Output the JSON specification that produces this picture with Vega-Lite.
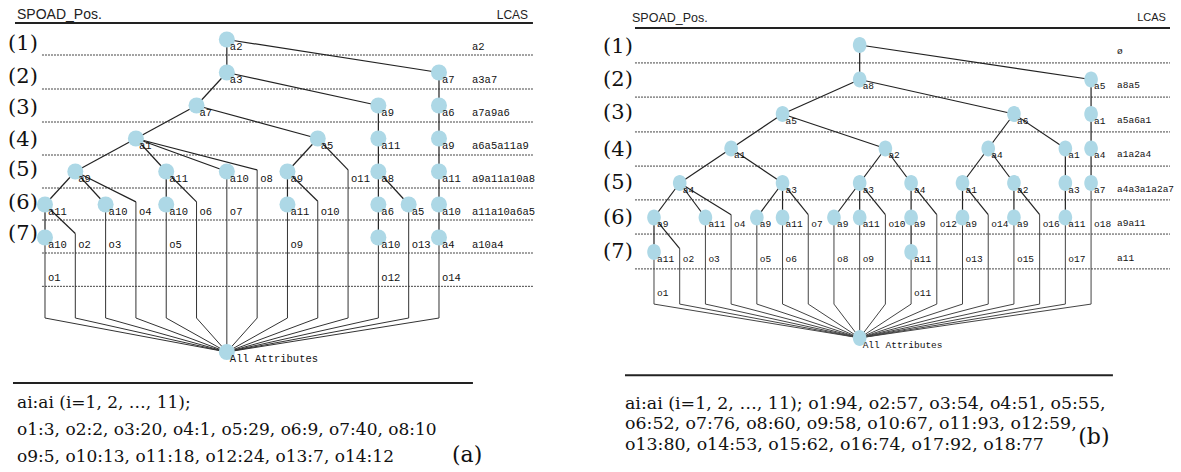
{
  "$schema": "https://vega.github.io/schema/vega-lite/v6.json",
  "background": "white",
  "padding": 0,
  "bounds": "flush",
  "spacing": 55,
  "config": {"view": {"stroke": null}},
  "datasets": {
    "nodesA": [
      {"s": 7, "L": 1, "t": "a2"},
      {"s": 7, "L": 2, "t": "a3"}, {"s": 14, "L": 2, "t": "a7"},
      {"s": 6, "L": 3, "t": "a7"}, {"s": 12, "L": 3, "t": "a9"}, {"s": 14, "L": 3, "t": "a6"},
      {"s": 4, "L": 4, "t": "a1"}, {"s": 10, "L": 4, "t": "a5"}, {"s": 12, "L": 4, "t": "a11"}, {"s": 14, "L": 4, "t": "a9"},
      {"s": 2, "L": 5, "t": "a9"}, {"s": 5, "L": 5, "t": "a11"}, {"s": 7, "L": 5, "t": "a10"}, {"s": 9, "L": 5, "t": "a9"}, {"s": 12, "L": 5, "t": "a8"}, {"s": 14, "L": 5, "t": "a11"},
      {"s": 1, "L": 6, "t": "a11"}, {"s": 3, "L": 6, "t": "a10"}, {"s": 5, "L": 6, "t": "a10"}, {"s": 9, "L": 6, "t": "a11"}, {"s": 12, "L": 6, "t": "a6"}, {"s": 13, "L": 6, "t": "a5"}, {"s": 14, "L": 6, "t": "a10"},
      {"s": 1, "L": 7, "t": "a10"}, {"s": 12, "L": 7, "t": "a10"}, {"s": 14, "L": 7, "t": "a4"},
      {"s": 7, "L": 10.47, "t": "All Attributes"}
    ],
    "edgesA": [
      {"s": 7, "L": 1, "s2": 7, "L2": 2}, {"s": 7, "L": 1, "s2": 14, "L2": 2},
      {"s": 7, "L": 2, "s2": 6, "L2": 3}, {"s": 7, "L": 2, "s2": 12, "L2": 3}, {"s": 14, "L": 2, "s2": 14, "L2": 3},
      {"s": 6, "L": 3, "s2": 4, "L2": 4}, {"s": 6, "L": 3, "s2": 10, "L2": 4}, {"s": 12, "L": 3, "s2": 12, "L2": 4}, {"s": 14, "L": 3, "s2": 14, "L2": 4},
      {"s": 4, "L": 4, "s2": 2, "L2": 5}, {"s": 4, "L": 4, "s2": 5, "L2": 5}, {"s": 4, "L": 4, "s2": 7, "L2": 5}, {"s": 4, "L": 4, "s2": 8, "L2": 4.95},
      {"s": 10, "L": 4, "s2": 9, "L2": 5}, {"s": 10, "L": 4, "s2": 11, "L2": 4.95}, {"s": 12, "L": 4, "s2": 12, "L2": 5}, {"s": 14, "L": 4, "s2": 14, "L2": 5},
      {"s": 2, "L": 5, "s2": 1, "L2": 6}, {"s": 2, "L": 5, "s2": 3, "L2": 6}, {"s": 2, "L": 5, "s2": 4, "L2": 5.92},
      {"s": 5, "L": 5, "s2": 5, "L2": 6}, {"s": 5, "L": 5, "s2": 6, "L2": 5.92},
      {"s": 9, "L": 5, "s2": 9, "L2": 6}, {"s": 9, "L": 5, "s2": 10, "L2": 5.9},
      {"s": 12, "L": 5, "s2": 12, "L2": 6}, {"s": 12, "L": 5, "s2": 13, "L2": 6}, {"s": 14, "L": 5, "s2": 14, "L2": 6},
      {"s": 1, "L": 6, "s2": 1, "L2": 7}, {"s": 1, "L": 6, "s2": 2, "L2": 6.88},
      {"s": 12, "L": 6, "s2": 12, "L2": 7}, {"s": 14, "L": 6, "s2": 14, "L2": 7}
    ],
    "leavesA": [
      {"s": 1, "top": 7, "bend": 9.44, "rs": 7, "rL": 10.47, "t": "o1", "tL": 8},
      {"s": 2, "top": 6.88, "bend": 9.44, "rs": 7, "rL": 10.47, "t": "o2", "tL": 7},
      {"s": 3, "top": 6, "bend": 9.44, "rs": 7, "rL": 10.47, "t": "o3", "tL": 7},
      {"s": 4, "top": 5.92, "bend": 9.44, "rs": 7, "rL": 10.47, "t": "o4", "tL": 6},
      {"s": 5, "top": 6, "bend": 9.44, "rs": 7, "rL": 10.47, "t": "o5", "tL": 7},
      {"s": 6, "top": 5.92, "bend": 9.44, "rs": 7, "rL": 10.47, "t": "o6", "tL": 6},
      {"s": 7, "top": 5, "bend": 9.44, "rs": 7, "rL": 10.47, "t": "o7", "tL": 6},
      {"s": 8, "top": 4.95, "bend": 9.44, "rs": 7, "rL": 10.47, "t": "o8", "tL": 5},
      {"s": 9, "top": 6, "bend": 9.44, "rs": 7, "rL": 10.47, "t": "o9", "tL": 7},
      {"s": 10, "top": 5.9, "bend": 9.44, "rs": 7, "rL": 10.47, "t": "o10", "tL": 6},
      {"s": 11, "top": 4.95, "bend": 9.44, "rs": 7, "rL": 10.47, "t": "o11", "tL": 5},
      {"s": 12, "top": 7, "bend": 9.44, "rs": 7, "rL": 10.47, "t": "o12", "tL": 8},
      {"s": 13, "top": 6, "bend": 9.44, "rs": 7, "rL": 10.47, "t": "o13", "tL": 7},
      {"s": 14, "top": 7, "bend": 9.44, "rs": 7, "rL": 10.47, "t": "o14", "tL": 8}
    ],
    "dashA": [
      {"L": 1.47, "s": 0.9, "s2": 17.1}, {"L": 2.5, "s": 0.9, "s2": 17.1}, {"L": 3.5, "s": 0.9, "s2": 17.1}, {"L": 4.5, "s": 0.9, "s2": 17.1},
      {"L": 5.5, "s": 0.9, "s2": 17.1}, {"L": 6.47, "s": 0.9, "s2": 17.1}, {"L": 7.47, "s": 0.9, "s2": 17.1}, {"L": 8.48, "s": 0.9, "s2": 17.1}
    ],
    "solidA": [
      {"L": 0.5, "s": 0.01, "s2": 17.1},
      {"L": 11.41, "s": -0.056, "s2": 15.12}
    ],
    "rowsA": [
      {"s": 0.274, "L": 1.14, "t": "(1)"}, {"s": 0.274, "L": 2.14, "t": "(2)"}, {"s": 0.274, "L": 3.08, "t": "(3)"},
      {"s": 0.274, "L": 4.05, "t": "(4)"}, {"s": 0.274, "L": 4.95, "t": "(5)"}, {"s": 0.274, "L": 5.95, "t": "(6)"}, {"s": 0.274, "L": 6.89, "t": "(7)"}
    ],
    "lcasA": [
      {"s": 15.09, "L": 1, "t": "a2"}, {"s": 15.09, "L": 2, "t": "a3a7"}, {"s": 15.09, "L": 3, "t": "a7a9a6"},
      {"s": 15.09, "L": 4, "t": "a6a5a11a9"}, {"s": 15.09, "L": 5, "t": "a9a11a10a8"}, {"s": 15.09, "L": 6, "t": "a11a10a6a5"}, {"s": 15.09, "L": 7, "t": "a10a4"}
    ],
    "bottomA": [
      {"s": 0.076, "L": 12.02, "t": "ai:ai (i=1, 2, …, 11);"},
      {"s": 0.076, "L": 12.84, "t": "o1:3, o2:2, o3:20, o4:1, o5:29, o6:9, o7:40, o8:10"},
      {"s": 0.076, "L": 13.66, "t": "o9:5, o10:13, o11:18, o12:24, o13:7, o14:12"}
    ],
    "nodesB": [
      {"s": 9, "L": 1, "t": ""},
      {"s": 9, "L": 2, "t": "a8"}, {"s": 18, "L": 2, "t": "a5"},
      {"s": 6, "L": 3, "t": "a5"}, {"s": 15, "L": 3, "t": "a6"}, {"s": 18, "L": 3, "t": "a1"},
      {"s": 4, "L": 4, "t": "a1"}, {"s": 10, "L": 4, "t": "a2"}, {"s": 14, "L": 4, "t": "a4"}, {"s": 17, "L": 4, "t": "a1"}, {"s": 18, "L": 4, "t": "a4"},
      {"s": 2, "L": 5, "t": "a4"}, {"s": 6, "L": 5, "t": "a3"}, {"s": 9, "L": 5, "t": "a3"}, {"s": 11, "L": 5, "t": "a4"}, {"s": 13, "L": 5, "t": "a1"}, {"s": 15, "L": 5, "t": "a2"}, {"s": 17, "L": 5, "t": "a3"}, {"s": 18, "L": 5, "t": "a7"},
      {"s": 1, "L": 6, "t": "a9"}, {"s": 3, "L": 6, "t": "a11"}, {"s": 5, "L": 6, "t": "a9"}, {"s": 6, "L": 6, "t": "a11"}, {"s": 8, "L": 6, "t": "a9"}, {"s": 9, "L": 6, "t": "a11"}, {"s": 11, "L": 6, "t": "a9"}, {"s": 13, "L": 6, "t": "a9"}, {"s": 15, "L": 6, "t": "a9"}, {"s": 17, "L": 6, "t": "a11"},
      {"s": 1, "L": 7, "t": "a11"}, {"s": 11, "L": 7, "t": "a11"},
      {"s": 9, "L": 9.49, "t": "All Attributes"}
    ],
    "edgesB": [
      {"s": 9, "L": 1, "s2": 9, "L2": 2}, {"s": 9, "L": 1, "s2": 18, "L2": 2},
      {"s": 9, "L": 2, "s2": 6, "L2": 3}, {"s": 9, "L": 2, "s2": 15, "L2": 3}, {"s": 18, "L": 2, "s2": 18, "L2": 3},
      {"s": 6, "L": 3, "s2": 4, "L2": 4}, {"s": 6, "L": 3, "s2": 10, "L2": 4}, {"s": 15, "L": 3, "s2": 14, "L2": 4}, {"s": 15, "L": 3, "s2": 17, "L2": 4}, {"s": 18, "L": 3, "s2": 18, "L2": 4},
      {"s": 4, "L": 4, "s2": 2, "L2": 5}, {"s": 4, "L": 4, "s2": 6, "L2": 5}, {"s": 10, "L": 4, "s2": 9, "L2": 5}, {"s": 10, "L": 4, "s2": 11, "L2": 5},
      {"s": 14, "L": 4, "s2": 13, "L2": 5}, {"s": 14, "L": 4, "s2": 15, "L2": 5}, {"s": 17, "L": 4, "s2": 17, "L2": 5}, {"s": 18, "L": 4, "s2": 18, "L2": 5},
      {"s": 2, "L": 5, "s2": 1, "L2": 6}, {"s": 2, "L": 5, "s2": 3, "L2": 6}, {"s": 2, "L": 5, "s2": 4, "L2": 5.92},
      {"s": 6, "L": 5, "s2": 5, "L2": 6}, {"s": 6, "L": 5, "s2": 6, "L2": 6}, {"s": 6, "L": 5, "s2": 7, "L2": 5.92},
      {"s": 9, "L": 5, "s2": 8, "L2": 6}, {"s": 9, "L": 5, "s2": 9, "L2": 6}, {"s": 9, "L": 5, "s2": 10, "L2": 5.92},
      {"s": 11, "L": 5, "s2": 11, "L2": 6}, {"s": 11, "L": 5, "s2": 12, "L2": 5.92},
      {"s": 13, "L": 5, "s2": 13, "L2": 6}, {"s": 13, "L": 5, "s2": 14, "L2": 5.92},
      {"s": 15, "L": 5, "s2": 15, "L2": 6}, {"s": 15, "L": 5, "s2": 16, "L2": 5.92},
      {"s": 17, "L": 5, "s2": 17, "L2": 6},
      {"s": 1, "L": 6, "s2": 1, "L2": 7}, {"s": 1, "L": 6, "s2": 2, "L2": 6.9}, {"s": 11, "L": 6, "s2": 11, "L2": 7}
    ],
    "leavesB": [
      {"s": 1, "top": 7, "bend": 8.51, "rs": 9, "rL": 9.49, "t": "o1", "tL": 8},
      {"s": 2, "top": 6.9, "bend": 8.51, "rs": 9, "rL": 9.49, "t": "o2", "tL": 7},
      {"s": 3, "top": 6, "bend": 8.51, "rs": 9, "rL": 9.49, "t": "o3", "tL": 7},
      {"s": 4, "top": 5.92, "bend": 8.51, "rs": 9, "rL": 9.49, "t": "o4", "tL": 6},
      {"s": 5, "top": 6, "bend": 8.51, "rs": 9, "rL": 9.49, "t": "o5", "tL": 7},
      {"s": 6, "top": 6, "bend": 8.51, "rs": 9, "rL": 9.49, "t": "o6", "tL": 7},
      {"s": 7, "top": 5.92, "bend": 8.51, "rs": 9, "rL": 9.49, "t": "o7", "tL": 6},
      {"s": 8, "top": 6, "bend": 8.51, "rs": 9, "rL": 9.49, "t": "o8", "tL": 7},
      {"s": 9, "top": 6, "bend": 8.51, "rs": 9, "rL": 9.49, "t": "o9", "tL": 7},
      {"s": 10, "top": 5.92, "bend": 8.51, "rs": 9, "rL": 9.49, "t": "o10", "tL": 6},
      {"s": 11, "top": 7, "bend": 8.51, "rs": 9, "rL": 9.49, "t": "o11", "tL": 8},
      {"s": 12, "top": 5.92, "bend": 8.51, "rs": 9, "rL": 9.49, "t": "o12", "tL": 6},
      {"s": 13, "top": 6, "bend": 8.51, "rs": 9, "rL": 9.49, "t": "o13", "tL": 7},
      {"s": 14, "top": 5.92, "bend": 8.51, "rs": 9, "rL": 9.49, "t": "o14", "tL": 6},
      {"s": 15, "top": 6, "bend": 8.51, "rs": 9, "rL": 9.49, "t": "o15", "tL": 7},
      {"s": 16, "top": 5.92, "bend": 8.51, "rs": 9, "rL": 9.49, "t": "o16", "tL": 6},
      {"s": 17, "top": 6, "bend": 8.51, "rs": 9, "rL": 9.49, "t": "o17", "tL": 7},
      {"s": 18, "top": 5, "bend": 8.51, "rs": 9, "rL": 9.49, "t": "o18", "tL": 6}
    ],
    "dashB": [
      {"L": 1.52, "s": 0.261, "s2": 21.07}, {"L": 2.51, "s": 0.261, "s2": 21.07}, {"L": 3.52, "s": 0.261, "s2": 21.07}, {"L": 4.51, "s": 0.261, "s2": 21.07},
      {"L": 5.49, "s": 0.261, "s2": 21.07}, {"L": 6.48, "s": 0.261, "s2": 21.07}, {"L": 7.49, "s": 0.261, "s2": 21.07}
    ],
    "solidB": [
      {"L": 0.507, "s": 0.261, "s2": 21.07},
      {"L": 10.57, "s": -0.128, "s2": 18.85}
    ],
    "rowsB": [
      {"s": -0.4, "L": 1.06, "t": "(1)"}, {"s": -0.4, "L": 2.01, "t": "(2)"}, {"s": -0.4, "L": 2.97, "t": "(3)"},
      {"s": -0.4, "L": 4.04, "t": "(4)"}, {"s": -0.4, "L": 5.0, "t": "(5)"}, {"s": -0.4, "L": 6.01, "t": "(6)"}, {"s": -0.4, "L": 7.0, "t": "(7)"}
    ],
    "lcasB": [
      {"s": 19.01, "L": 1, "t": "ø"}, {"s": 19.01, "L": 2, "t": "a8a5"}, {"s": 19.01, "L": 3, "t": "a5a6a1"},
      {"s": 19.01, "L": 4, "t": "a1a2a4"}, {"s": 19.01, "L": 5, "t": "a4a3a1a2a7"}, {"s": 19.01, "L": 6, "t": "a9a11"}, {"s": 19.01, "L": 7, "t": "a11"}
    ],
    "bottomB": [
      {"s": -0.128, "L": 11.4, "t": "ai:ai (i=1, 2, …, 11); o1:94, o2:57, o3:54, o4:51, o5:55,"},
      {"s": -0.128, "L": 12.0, "t": "o6:52, o7:76, o8:60, o9:58, o10:67, o11:93, o12:59,"},
      {"s": -0.128, "L": 12.6, "t": "o13:80, o14:53, o15:62, o16:74, o17:92, o18:77"}
    ]
  },
  "hconcat": [
    {
      "width": 545,
      "height": 472,
      "encoding": {
        "x": {"field": "s", "type": "quantitative", "scale": {"domain": [-0.4848, 17.498], "nice": false, "zero": false}, "axis": null},
        "y": {"field": "L", "type": "quantitative", "scale": {"domain": [-0.197, 14.106], "nice": false, "zero": false, "reverse": true}, "axis": null}
      },
      "layer": [
        {"data": {"name": "dashA"}, "mark": {"type": "rule", "strokeDash": [2, 1], "color": "#444", "strokeWidth": 1},
         "encoding": {"x2": {"field": "s2"}}},
        {"data": {"name": "solidA"}, "mark": {"type": "rule", "color": "#222", "strokeWidth": 2},
         "encoding": {"x2": {"field": "s2"}}},
        {"data": {"name": "edgesA"}, "mark": {"type": "rule", "color": "#222", "strokeWidth": 1.2},
         "encoding": {"x2": {"field": "s2"}, "y2": {"field": "L2"}}},
        {"data": {"name": "leavesA"}, "mark": {"type": "rule", "color": "#333", "strokeWidth": 1},
         "encoding": {"y": {"field": "top", "type": "quantitative"}, "y2": {"field": "bend"}}},
        {"data": {"name": "leavesA"}, "mark": {"type": "rule", "color": "#333", "strokeWidth": 1},
         "encoding": {"y": {"field": "bend", "type": "quantitative"}, "x2": {"field": "rs"}, "y2": {"field": "rL"}}},
        {"data": {"name": "nodesA"}, "mark": {"type": "point", "shape": "circle", "filled": true, "size": 256, "color": "#add8e6", "opacity": 1}},
        {"data": {"name": "nodesA"}, "mark": {"type": "text", "align": "left", "baseline": "middle", "dx": 3, "dy": 7, "font": "Liberation Mono", "fontSize": 10.5, "color": "#111"},
         "encoding": {"text": {"field": "t"}}},
        {"data": {"name": "leavesA"}, "mark": {"type": "text", "align": "left", "baseline": "middle", "dx": 3, "dy": 7, "font": "Liberation Mono", "fontSize": 10.5, "color": "#111"},
         "encoding": {"y": {"field": "tL", "type": "quantitative"}, "text": {"field": "t"}}},
        {"data": {"name": "lcasA"}, "mark": {"type": "text", "align": "left", "baseline": "middle", "dy": 7, "font": "Liberation Mono", "fontSize": 10.5, "color": "#111"},
         "encoding": {"text": {"field": "t"}}},
        {"data": {"name": "rowsA"}, "mark": {"type": "text", "align": "center", "baseline": "middle", "font": "DejaVu Serif", "fontSize": 21, "color": "#111"},
         "encoding": {"text": {"field": "t"}}},
        {"data": {"values": [{"s": 0.076, "L": 0.258, "t": "SPOAD_Pos."}]}, "mark": {"type": "text", "align": "left", "baseline": "middle", "font": "Liberation Sans", "fontSize": 14, "color": "#222"},
         "encoding": {"text": {"field": "t"}}},
        {"data": {"values": [{"s": 16.94, "L": 0.258, "t": "LCAS"}]}, "mark": {"type": "text", "align": "right", "baseline": "middle", "font": "Liberation Sans", "fontSize": 12, "color": "#222"},
         "encoding": {"text": {"field": "t"}}},
        {"data": {"name": "bottomA"}, "mark": {"type": "text", "align": "left", "baseline": "middle", "font": "DejaVu Serif", "fontSize": 17, "color": "#111"},
         "encoding": {"text": {"field": "t"}}},
        {"data": {"values": [{"s": 14.93, "L": 13.6, "t": "(a)"}]}, "mark": {"type": "text", "align": "center", "baseline": "middle", "font": "DejaVu Serif", "fontSize": 22, "color": "#111"},
         "encoding": {"text": {"field": "t"}}}
      ]
    },
    {
      "width": 581,
      "height": 472,
      "encoding": {
        "x": {"field": "s", "type": "quantitative", "scale": {"domain": [-1.1, 21.498], "nice": false, "zero": false}, "axis": null},
        "y": {"field": "L", "type": "quantitative", "scale": {"domain": [-0.304, 13.377], "nice": false, "zero": false, "reverse": true}, "axis": null}
      },
      "layer": [
        {"data": {"name": "dashB"}, "mark": {"type": "rule", "strokeDash": [2, 1], "color": "#444", "strokeWidth": 1},
         "encoding": {"x2": {"field": "s2"}}},
        {"data": {"name": "solidB"}, "mark": {"type": "rule", "color": "#222", "strokeWidth": 2},
         "encoding": {"x2": {"field": "s2"}}},
        {"data": {"name": "edgesB"}, "mark": {"type": "rule", "color": "#222", "strokeWidth": 1.2},
         "encoding": {"x2": {"field": "s2"}, "y2": {"field": "L2"}}},
        {"data": {"name": "leavesB"}, "mark": {"type": "rule", "color": "#444", "strokeWidth": 1},
         "encoding": {"y": {"field": "top", "type": "quantitative"}, "y2": {"field": "bend"}}},
        {"data": {"name": "leavesB"}, "mark": {"type": "rule", "color": "#444", "strokeWidth": 1},
         "encoding": {"y": {"field": "bend", "type": "quantitative"}, "x2": {"field": "rs"}, "y2": {"field": "rL"}}},
        {"data": {"name": "nodesB"}, "mark": {"type": "point", "shape": "M0,-1A0.85,1 0 1,1 0,1A0.85,1 0 1,1 0,-1Z", "filled": true, "size": 256, "color": "#add8e6", "opacity": 1}},
        {"data": {"name": "nodesB"}, "mark": {"type": "text", "align": "left", "baseline": "middle", "dx": 3, "dy": 7, "font": "Liberation Mono", "fontSize": 9.5, "color": "#111"},
         "encoding": {"text": {"field": "t"}}},
        {"data": {"name": "leavesB"}, "mark": {"type": "text", "align": "left", "baseline": "middle", "dx": 3, "dy": 7, "font": "Liberation Mono", "fontSize": 9.5, "color": "#111"},
         "encoding": {"y": {"field": "tL", "type": "quantitative"}, "text": {"field": "t"}}},
        {"data": {"name": "lcasB"}, "mark": {"type": "text", "align": "left", "baseline": "middle", "dy": 6, "font": "Liberation Mono", "fontSize": 9.5, "color": "#111"},
         "encoding": {"text": {"field": "t"}}},
        {"data": {"name": "rowsB"}, "mark": {"type": "text", "align": "center", "baseline": "middle", "font": "DejaVu Serif", "fontSize": 21, "color": "#111"},
         "encoding": {"text": {"field": "t"}}},
        {"data": {"values": [{"s": 0.144, "L": 0.217, "t": "SPOAD_Pos."}]}, "mark": {"type": "text", "align": "left", "baseline": "middle", "font": "Liberation Sans", "fontSize": 12.5, "color": "#222"},
         "encoding": {"text": {"field": "t"}}},
        {"data": {"values": [{"s": 20.91, "L": 0.217, "t": "LCAS"}]}, "mark": {"type": "text", "align": "right", "baseline": "middle", "font": "Liberation Sans", "fontSize": 11, "color": "#222"},
         "encoding": {"text": {"field": "t"}}},
        {"data": {"name": "bottomB"}, "mark": {"type": "text", "align": "left", "baseline": "middle", "font": "DejaVu Serif", "fontSize": 17.4, "color": "#111"},
         "encoding": {"text": {"field": "t"}}},
        {"data": {"values": [{"s": 18.11, "L": 12.36, "t": "(b)"}]}, "mark": {"type": "text", "align": "center", "baseline": "middle", "font": "DejaVu Serif", "fontSize": 22, "color": "#111"},
         "encoding": {"text": {"field": "t"}}}
      ]
    }
  ]
}
